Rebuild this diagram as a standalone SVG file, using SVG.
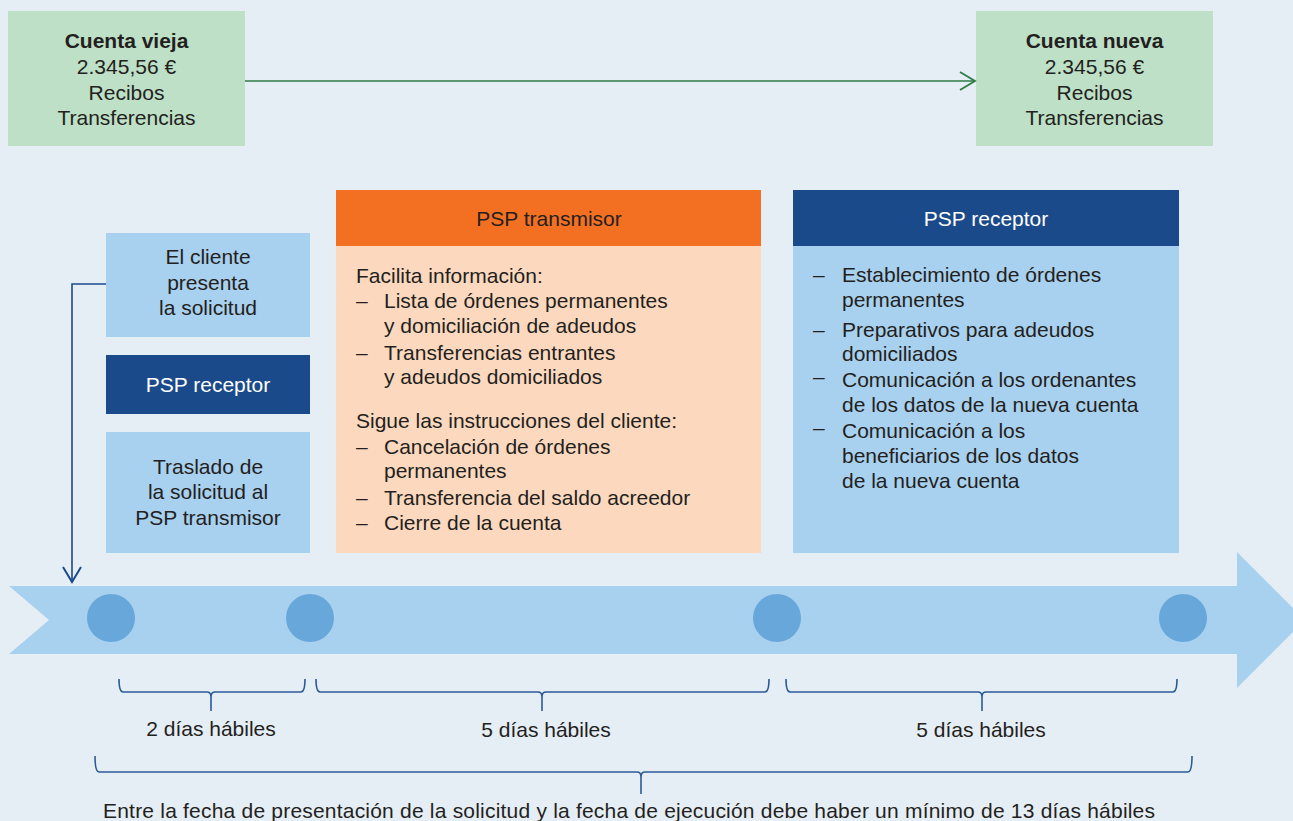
<svg xmlns="http://www.w3.org/2000/svg" width="1293" height="821" viewBox="0 0 1293 821">
<defs>
<style>
text{font-family:"Liberation Sans",Arial,sans-serif;font-size:21px;fill:#231F20}
.c{text-anchor:middle}
.w{fill:#FFFFFF}
.b{font-weight:bold}
.brace{fill:none;stroke:#2B5A98;stroke-width:1.6}
.green{fill:#BDE0C6}
.lb{fill:#A8D0EF}
.db{fill:#1B4A8A}
.dot{fill:#68A7D9}
</style>
<marker id="gArrow" markerWidth="20" markerHeight="24" refX="16" refY="10" orient="auto" markerUnits="userSpaceOnUse">
<path d="M1,1 L16,10 L1,19" fill="none" stroke="#2D7A45" stroke-width="1.8"/>
</marker>
<marker id="bArrow" markerWidth="24" markerHeight="20" refX="16" refY="10" orient="auto" markerUnits="userSpaceOnUse">
<path d="M1,1 L16,10 L1,19" fill="none" stroke="#1B4A8A" stroke-width="2"/>
</marker>
</defs>
<rect x="0" y="0" width="1293" height="821" fill="#E6EEF5"/>

<g id="timeline">
<path class="lb" d="M9,586 L1237,586 L1237,552 L1305,620 L1237,688 L1237,654 L9,654 L49,620 Z"/>
<circle class="dot" cx="111" cy="618" r="24"/>
<circle class="dot" cx="310" cy="618" r="24"/>
<circle class="dot" cx="777" cy="618" r="24"/>
<circle class="dot" cx="1183" cy="618" r="24"/>
</g>

<g id="cuenta-vieja">
<rect class="green" x="8" y="11" width="237" height="135"/>
<text class="c b" x="126.5" y="48">Cuenta vieja</text>
<text class="c" x="126.5" y="74">2.345,56 €</text>
<text class="c" x="126.5" y="100">Recibos</text>
<text class="c" x="126.5" y="125">Transferencias</text>
</g>

<g id="cuenta-nueva">
<rect class="green" x="976" y="11" width="237" height="135"/>
<text class="c b" x="1094.5" y="48">Cuenta nueva</text>
<text class="c" x="1094.5" y="74">2.345,56 €</text>
<text class="c" x="1094.5" y="100">Recibos</text>
<text class="c" x="1094.5" y="125">Transferencias</text>
</g>

<g id="cliente-presenta">
<rect class="lb" x="106" y="233" width="204" height="104"/>
<text class="c" x="208" y="264">El cliente</text>
<text class="c" x="208" y="290">presenta</text>
<text class="c" x="208" y="315">la solicitud</text>
</g>

<g id="psp-receptor-left">
<rect class="db" x="106" y="355" width="204" height="59"/>
<text class="c w" x="208" y="392">PSP receptor</text>
</g>

<g id="traslado">
<rect class="lb" x="106" y="432" width="204" height="121"/>
<text class="c" x="208" y="474">Traslado de</text>
<text class="c" x="208" y="499">la solicitud al</text>
<text class="c" x="208" y="525">PSP transmisor</text>
</g>

<g id="psp-transmisor">
<rect fill="#FCD9BE" x="336" y="190" width="425" height="363"/>
<rect fill="#F37022" x="336" y="190" width="425" height="56"/>
<text class="c" x="549" y="226">PSP transmisor</text>
<text x="356" y="283">Facilita información:</text>
<text x="356" y="308">–</text><text x="384" y="308">Lista de órdenes permanentes</text>
<text x="384" y="333">y domiciliación de adeudos</text>
<text x="356" y="360">–</text><text x="384" y="360">Transferencias entrantes</text>
<text x="384" y="384">y adeudos domiciliados</text>
<text x="356" y="428">Sigue las instrucciones del cliente:</text>
<text x="356" y="454">–</text><text x="384" y="454">Cancelación de órdenes</text>
<text x="384" y="478">permanentes</text>
<text x="356" y="505">–</text><text x="384" y="505">Transferencia del saldo acreedor</text>
<text x="356" y="530">–</text><text x="384" y="530">Cierre de la cuenta</text>
</g>

<g id="psp-receptor-right">
<rect class="lb" x="793" y="190" width="386" height="363"/>
<rect class="db" x="793" y="190" width="386" height="56"/>
<text class="c w" x="986" y="226">PSP receptor</text>
<text x="813" y="282">–</text><text x="842" y="282">Establecimiento de órdenes</text>
<text x="842" y="307">permanentes</text>
<text x="813" y="337">–</text><text x="842" y="337">Preparativos para adeudos</text>
<text x="842" y="361">domiciliados</text>
<text x="813" y="384">–</text><text x="842" y="387">Comunicación a los ordenantes</text>
<text x="842" y="412">de los datos de la nueva cuenta</text>
<text x="813" y="435">–</text><text x="842" y="438">Comunicación a los</text>
<text x="842" y="463">beneficiarios de los datos</text>
<text x="842" y="488">de la nueva cuenta</text>
</g>

<g id="connectors">
<line x1="245" y1="81" x2="975" y2="81" stroke="#2D7A45" stroke-width="1.6" marker-end="url(#gArrow)"/>
<polyline points="106,284 72,284 72,582" fill="none" stroke="#1B4A8A" stroke-width="1.6" marker-end="url(#bArrow)"/>
</g>

<g id="braces">
<path class="brace" d="M119,679 Q119,692 123,692 L207,692 Q211,692 211,697 Q211,692 215,692 L301,692 Q305,692 305,679 M211,697 L211,711"/>
<path class="brace" d="M316,679 Q316,692 320,692 L538,692 Q542,692 542,697 Q542,692 546,692 L765,692 Q769,692 769,679 M542,697 L542,711"/>
<path class="brace" d="M786,679 Q786,692 790,692 L978,692 Q982,692 982,697 Q982,692 986,692 L1173,692 Q1177,692 1177,679 M982,697 L982,711"/>
<path class="brace" d="M95,756 Q95,772 99,772 L637,772 Q641,772 641,777 Q641,772 645,772 L1188,772 Q1192,772 1192,756 M641,777 L641,794"/>
</g>

<g id="labels">
<text class="c" x="211" y="736">2 días hábiles</text>
<text class="c" x="546" y="737">5 días hábiles</text>
<text class="c" x="981" y="737">5 días hábiles</text>
<text class="c" x="629" y="818" textLength="1052" lengthAdjust="spacing">Entre la fecha de presentación de la solicitud y la fecha de ejecución debe haber un mínimo de 13 días hábiles</text>
</g>
</svg>
